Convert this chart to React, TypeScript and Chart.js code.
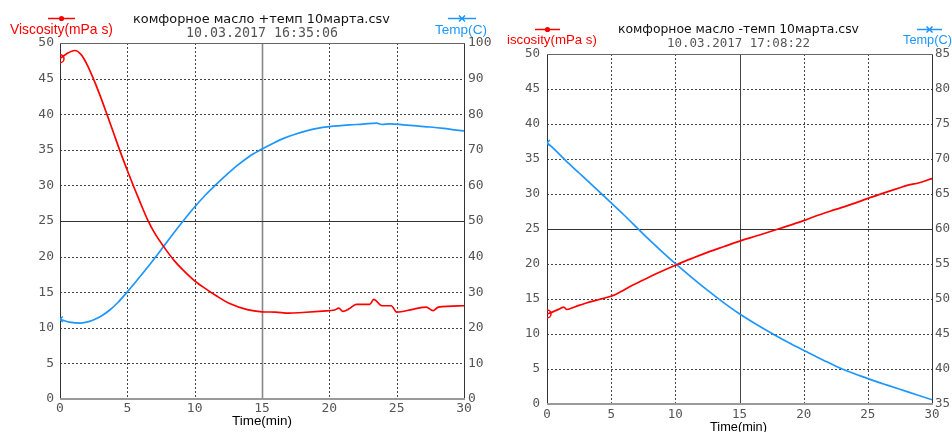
import React, { useEffect, useRef } from 'react';
import { Chart, registerables } from 'chart.js';

Chart.register(...registerables);

const timeTicks = [0, 5, 10, 15, 20, 25, 30];

// Left chart
const leftTitle = 'комфорное масло +темп 10марта.csv';
const leftStamp = '10.03.2017 16:35:06';
const leftViscLabel = 'Viscosity(mPa s)';
const leftTempLabel = 'Temp(C)';
const leftViscTime = [0, 0.5, 1.1, 1.6, 2.0, 2.5, 3.0, 3.5, 4.0, 4.5, 5.0, 5.5, 6.0, 6.5, 7.0, 7.7, 8.5, 9.2, 10.0, 10.8, 11.6, 12.6, 13.9, 15.0, 16.0, 17.0, 18.0, 19.5, 20.4, 20.7, 21.0, 21.5, 22.0, 23.0, 23.3, 23.9, 24.6, 25.0, 26.2, 27.2, 27.7, 28.1, 30.0];
const leftViscValues = [47.8, 48.5, 48.95, 48.3, 47.0, 44.9, 42.5, 39.9, 37.25, 34.6, 32.1, 29.7, 27.4, 25.2, 23.4, 21.4, 19.4, 18.0, 16.6, 15.5, 14.5, 13.4, 12.55, 12.25, 12.2, 12.05, 12.15, 12.35, 12.5, 12.75, 12.3, 12.7, 13.3, 13.3, 14.0, 13.1, 13.1, 12.2, 12.6, 12.9, 12.4, 12.9, 13.1];
const leftTempTime = [0, 0.7, 1.5, 2.2, 2.6, 3.1, 3.7, 4.3, 5.0, 5.6, 6.4, 7.0, 7.7, 8.3, 9.0, 9.9, 10.8, 11.6, 12.4, 13.1, 14.0, 15.0, 15.8, 16.6, 17.4, 18.3, 19.1, 20.0, 21.5, 22.5, 23.5, 23.9, 24.5, 25.5, 26.5, 27.5, 28.5, 29.3, 30.0];
const leftTempValues = [22.4, 21.6, 21.3, 21.8, 22.4, 23.4, 25.0, 27.1, 30.1, 32.8, 36.5, 39.4, 42.9, 45.9, 49.3, 53.5, 57.3, 60.3, 63.1, 65.4, 68.0, 70.2, 71.8, 73.2, 74.3, 75.3, 76.0, 76.5, 77.0, 77.2, 77.5, 77.1, 77.3, 77.0, 76.7, 76.4, 76.0, 75.6, 75.3];

// Right chart
const rightTitle = 'комфорное масло -темп 10марта.csv';
const rightStamp = '10.03.2017 17:08:22';
const rightViscLabel = 'iscosity(mPa s)';
const rightTempLabel = 'Temp(C)';
const rightViscTime = [0, 0.5, 1.0, 1.3, 1.55, 2.2, 3.0, 4.0, 4.7, 5.3, 6.0, 6.7, 7.5, 8.5, 10.1, 11.3, 12.7, 13.8, 14.9, 16.5, 18.2, 20.0, 21.0, 22.5, 24.0, 24.9, 26.5, 27.5, 28.0, 29.0, 30.0];
const rightViscValues = [12.86, 13.2, 13.6, 13.85, 13.5, 13.9, 14.4, 14.9, 15.25, 15.6, 16.3, 17.0, 17.7, 18.6, 19.9, 20.8, 21.8, 22.5, 23.2, 24.1, 25.1, 26.2, 26.9, 27.8, 28.7, 29.3, 30.3, 30.9, 31.2, 31.6, 32.2];
const rightTempTime = [0, 0.4, 1.5, 2.5, 3.5, 4.9, 6.0, 7.0, 8.0, 9.0, 10.1, 11.2, 12.4, 13.6, 14.9, 16.2, 17.6, 19.0, 20.4, 21.5, 23.0, 24.9, 26.5, 28.0, 30.0];
const rightTempValues = [72.3, 71.7, 69.7, 68.0, 66.3, 63.9, 62.0, 60.2, 58.4, 56.7, 54.9, 53.2, 51.4, 49.7, 48.0, 46.5, 45.0, 43.6, 42.3, 41.3, 40.0, 38.7, 37.7, 36.8, 35.6];

const RED = '#ff0000';
const BLUE = '#1e96ff';
const H = 432;

type Spec = {
  width: number;
  padTop: number;
  yWidth: number;
  y1Width: number;
  xHeight: number;
  tickSize: number;
  xPad: number;
  yPad: number;
  y1Pad: number;
  y1Min: number;
  y1Max: number;
  y1Step: number;
  midVColor: string;
  midVWidth: number;
  title: string;
  stamp: string;
  viscLabel: string;
  tempLabel: string;
  viscTime: number[];
  viscValues: number[];
  tempTime: number[];
  tempValues: number[];
  titleBox: number[];
  stampBox: number[];
  viscBox: number[];
  tempBox: number[];
  timeBox: number[];
  viscLine: number[];
  tempLine: number[];
};

function fitText(ctx: CanvasRenderingContext2D, text: string, x: number, w: number, y: number, family: string, base: number, color: string, weight = 'normal') {
  ctx.font = `${weight} ${base}px "${family}"`;
  const m = ctx.measureText(text).width;
  const size = base * w / m;
  ctx.font = `${weight} ${size.toFixed(2)}px "${family}"`;
  ctx.fillStyle = color;
  ctx.textAlign = 'left';
  ctx.textBaseline = 'middle';
  ctx.fillText(text, x, y);
}

function makeDecor(spec: Spec) {
  return {
    id: 'decor',
    beforeDatasetsDraw(chart: any) {
      const { ctx, chartArea: a, scales } = chart;
      const xs = scales.x;
      const ys = scales.y;
      ctx.save();
      for (const v of timeTicks) {
        if (v === 0 || v === 30) continue;
        const px = Math.round(xs.getPixelForValue(v)) + 0.5;
        if (v === 15) {
          ctx.setLineDash([]);
          ctx.strokeStyle = spec.midVColor;
          ctx.lineWidth = spec.midVWidth;
        } else {
          ctx.setLineDash([2, 2]);
          ctx.strokeStyle = '#444';
          ctx.lineWidth = 1;
        }
        ctx.beginPath();
        ctx.moveTo(px, a.top);
        ctx.lineTo(px, a.bottom);
        ctx.stroke();
      }
      for (let v = 5; v < 50; v += 5) {
        const py = Math.round(ys.getPixelForValue(v)) + 0.5;
        if (v === 25) {
          ctx.setLineDash([]);
          ctx.strokeStyle = '#333';
        } else {
          ctx.setLineDash([2, 2]);
          ctx.strokeStyle = '#444';
        }
        ctx.lineWidth = 1;
        ctx.beginPath();
        ctx.moveTo(a.left, py);
        ctx.lineTo(a.right, py);
        ctx.stroke();
      }
      ctx.setLineDash([]);
      const l = Math.round(a.left) + 0.5;
      const r = Math.round(a.right) + 0.5;
      const t = Math.round(a.top) + 0.5;
      const b = Math.round(a.bottom);
      ctx.strokeStyle = '#666';
      ctx.lineWidth = 1;
      ctx.beginPath();
      ctx.moveTo(l, t);
      ctx.lineTo(r, t);
      ctx.stroke();
      ctx.strokeStyle = '#333';
      ctx.beginPath();
      ctx.moveTo(l, t);
      ctx.lineTo(l, b);
      ctx.moveTo(r, t);
      ctx.lineTo(r, b);
      ctx.stroke();
      ctx.strokeStyle = '#9a9a9a';
      ctx.lineWidth = 2;
      ctx.beginPath();
      ctx.moveTo(a.left, b);
      ctx.lineTo(a.right + 1, b);
      ctx.stroke();
      ctx.restore();
    },
    afterDraw(chart: any) {
      const { ctx } = chart;
      ctx.save();
      fitText(ctx, spec.title, spec.titleBox[0], spec.titleBox[1], spec.titleBox[2], 'DejaVu Sans', 13, '#111');
      fitText(ctx, spec.stamp, spec.stampBox[0], spec.stampBox[1], spec.stampBox[2], 'DejaVu Sans Mono', 13, '#555');
      fitText(ctx, spec.viscLabel, spec.viscBox[0], spec.viscBox[1], spec.viscBox[2], 'Liberation Sans', 13, RED);
      fitText(ctx, spec.tempLabel, spec.tempBox[0], spec.tempBox[1], spec.tempBox[2], 'Liberation Sans', 13, BLUE);
      fitText(ctx, 'Time(min)', spec.timeBox[0], spec.timeBox[1], spec.timeBox[2], 'Liberation Sans', 13, '#000');
      const [vx0, vx1, vy] = spec.viscLine;
      ctx.strokeStyle = RED;
      ctx.lineWidth = 1.5;
      ctx.beginPath();
      ctx.moveTo(vx0, vy);
      ctx.lineTo(vx1, vy);
      ctx.stroke();
      ctx.fillStyle = RED;
      ctx.beginPath();
      ctx.arc((vx0 + vx1) / 2, vy, 2.6, 0, Math.PI * 2);
      ctx.fill();
      const [tx0, tx1, ty] = spec.tempLine;
      ctx.strokeStyle = BLUE;
      ctx.beginPath();
      ctx.moveTo(tx0, ty);
      ctx.lineTo(tx1, ty);
      const cx = (tx0 + tx1) / 2;
      ctx.moveTo(cx - 3, ty - 3);
      ctx.lineTo(cx + 3, ty + 3);
      ctx.moveTo(cx - 3, ty + 3);
      ctx.lineTo(cx + 3, ty - 3);
      ctx.stroke();
      ctx.restore();
    },
  };
}

function makeConfig(spec: Spec): any {
  const first = (c: any) => (c.dataIndex === 0 ? 4 : 0);
  return {
    type: 'line',
    data: {
      datasets: [
        {
          label: spec.viscLabel,
          data: spec.viscTime.map((t, i) => ({ x: t, y: spec.viscValues[i] })),
          borderColor: RED,
          borderWidth: 1.7,
          pointRadius: first,
          pointStyle: 'circle',
          pointBorderColor: RED,
          pointBackgroundColor: 'rgba(0,0,0,0)',
          pointBorderWidth: 1.5,
          cubicInterpolationMode: 'monotone',
          yAxisID: 'y',
        },
        {
          label: spec.tempLabel,
          data: spec.tempTime.map((t, i) => ({ x: t, y: spec.tempValues[i] })),
          borderColor: BLUE,
          borderWidth: 1.7,
          pointRadius: first,
          pointStyle: 'crossRot',
          pointBorderColor: BLUE,
          pointBorderWidth: 1.5,
          cubicInterpolationMode: 'monotone',
          yAxisID: 'y1',
        },
      ],
    },
    options: {
      responsive: false,
      animation: false,
      devicePixelRatio: 1,
      layout: { padding: { top: spec.padTop, left: 0, right: 0, bottom: 0 } },
      plugins: { legend: { display: false }, tooltip: { enabled: false }, title: { display: false } },
      scales: {
        x: {
          type: 'linear',
          min: 0,
          max: 30,
          grid: { display: false, drawTicks: false },
          border: { display: false },
          afterBuildTicks: (s: any) => { s.ticks = timeTicks.map((v) => ({ value: v })); },
          ticks: { autoSkip: false, maxRotation: 0, minRotation: 0, padding: spec.xPad, color: '#555', font: { family: 'DejaVu Sans Mono', size: spec.tickSize } },
          afterFit: (s: any) => { s.height = spec.xHeight; },
        },
        y: {
          position: 'left',
          min: 0,
          max: 50,
          grid: { display: false, drawTicks: false },
          border: { display: false },
          ticks: { stepSize: 5, autoSkip: false, padding: spec.yPad, color: '#555', font: { family: 'DejaVu Sans Mono', size: spec.tickSize } },
          afterFit: (s: any) => { s.width = spec.yWidth; },
        },
        y1: {
          position: 'right',
          min: spec.y1Min,
          max: spec.y1Max,
          grid: { display: false, drawTicks: false },
          border: { display: false },
          ticks: { stepSize: spec.y1Step, autoSkip: false, padding: spec.y1Pad, color: '#555', font: { family: 'DejaVu Sans Mono', size: spec.tickSize } },
          afterFit: (s: any) => { s.width = spec.y1Width; },
        },
      },
    },
    plugins: [makeDecor(spec)],
  };
}

const leftSpec: Spec = {
  width: 492,
  padTop: 43,
  yWidth: 60,
  y1Width: 28,
  xHeight: 33,
  tickSize: 13,
  xPad: 2,
  yPad: 6,
  y1Pad: 4,
  y1Min: 0,
  y1Max: 100,
  y1Step: 10,
  midVColor: '#888',
  midVWidth: 1.6,
  title: leftTitle,
  stamp: leftStamp,
  viscLabel: leftViscLabel,
  tempLabel: leftTempLabel,
  viscTime: leftViscTime,
  viscValues: leftViscValues,
  tempTime: leftTempTime,
  tempValues: leftTempValues,
  titleBox: [133, 257, 20],
  stampBox: [186, 152, 34],
  viscBox: [10, 103, 30],
  tempBox: [435, 52, 30],
  timeBox: [232, 60, 421],
  viscLine: [48, 75, 18.5],
  tempLine: [448, 476, 18.5],
};

const rightSpec: Spec = {
  width: 460,
  padTop: 54,
  yWidth: 55,
  y1Width: 20,
  xHeight: 28,
  tickSize: 12.5,
  xPad: 3,
  yPad: 7,
  y1Pad: 3,
  y1Min: 35,
  y1Max: 85,
  y1Step: 5,
  midVColor: '#444',
  midVWidth: 1,
  title: rightTitle,
  stamp: rightStamp,
  viscLabel: rightViscLabel,
  tempLabel: rightTempLabel,
  viscTime: rightViscTime,
  viscValues: rightViscValues,
  tempTime: rightTempTime,
  tempValues: rightTempValues,
  titleBox: [126, 241, 30],
  stampBox: [175, 143, 44],
  viscBox: [15, 90, 40],
  tempBox: [411, 49, 40],
  timeBox: [218, 57, 427],
  viscLine: [43, 68, 29.5],
  tempLine: [425, 450, 29.5],
};

function Panel({ spec, left }: { spec: Spec; left: number }) {
  const ref = useRef<HTMLCanvasElement>(null);
  useEffect(() => {
    if (!ref.current) return;
    const chart = new Chart(ref.current, makeConfig(spec));
    return () => chart.destroy();
  }, [spec]);
  return (
    <canvas
      ref={ref}
      width={spec.width}
      height={H}
      style={{ position: 'absolute', left, top: 0, width: spec.width, height: H }}
    />
  );
}

export default function App() {
  return (
    <div style={{ position: 'fixed', left: 0, top: 0, width: 952, height: H, background: '#fff', overflow: 'hidden' }}>
      <Panel spec={leftSpec} left={0} />
      <Panel spec={rightSpec} left={492} />
    </div>
  );
}
